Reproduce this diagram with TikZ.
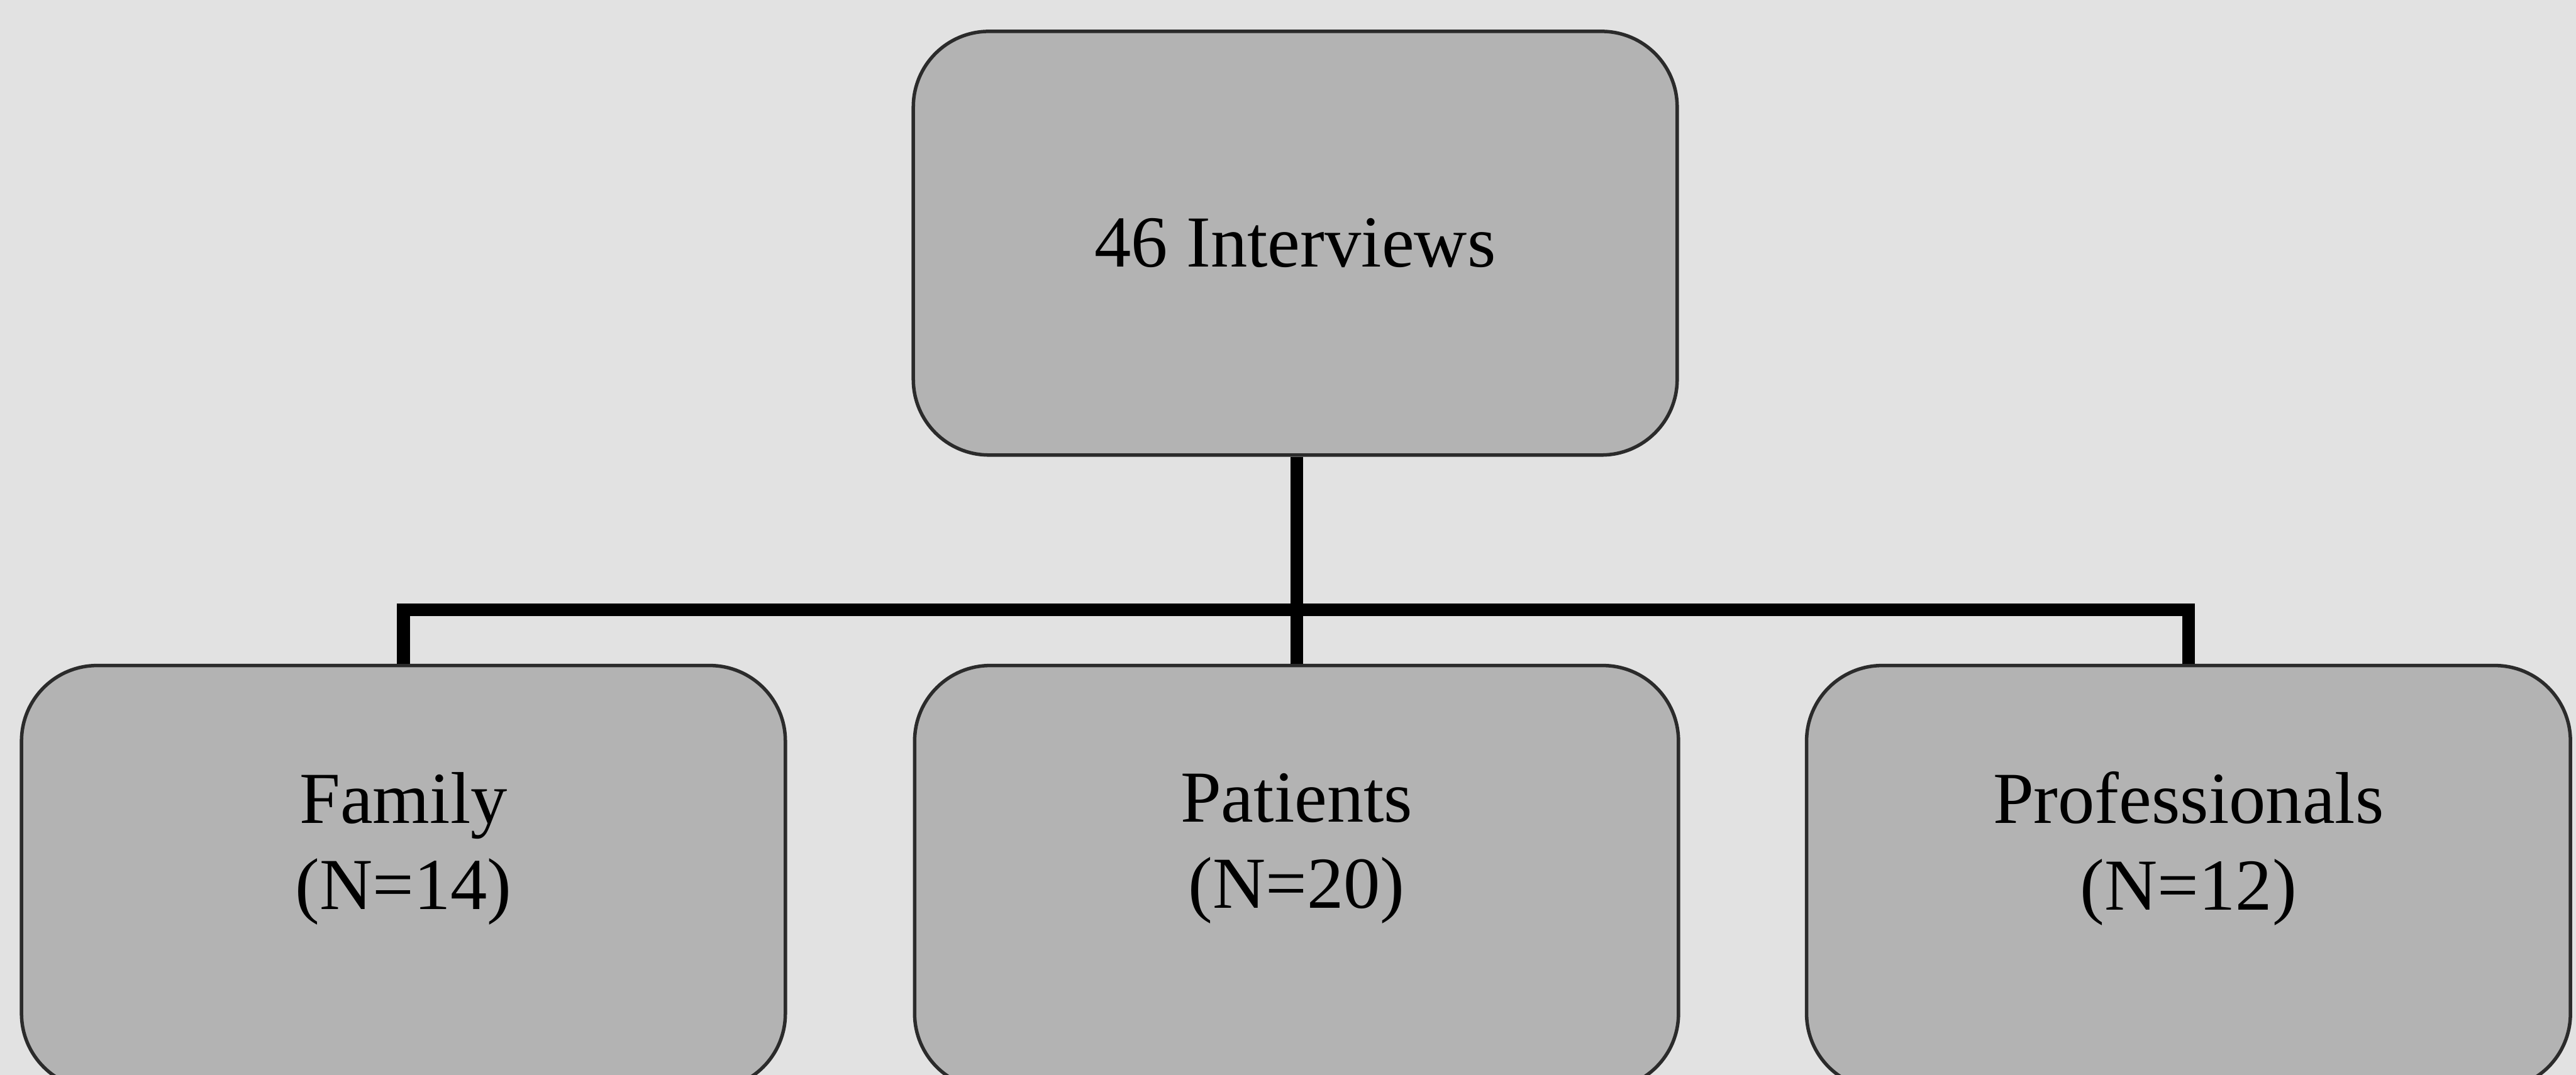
\documentclass[tikz,border=0pt]{standalone}
\usepackage{fontspec}
\setmainfont{Liberation Serif}
\usepackage{xcolor}
\usetikzlibrary{calc, positioning}

\definecolor{paper}{HTML}{E2E2E2}
\definecolor{boxgray}{HTML}{B3B3B3}
\definecolor{edgegray}{HTML}{2B2B2B}

\begin{document}
\begin{tikzpicture}[auto, font=\fontsize{12.7}{15}\selectfont]
				\tikzstyle{box} = [draw=edgegray, line width=0.6pt, fill=boxgray, rectangle, rounded corners=0.46cm, minimum width=4.65cm, minimum height=2.58cm, inner sep=0pt]
				\tikzstyle{invis} = [draw=none, align=center, inner sep=0pt]
				\tikzstyle{link} = [draw=black, line width=2.2pt]
				
				\useasboundingbox (0,0) rectangle (15.682,6.546);
				\fill[paper] (0,0) rectangle (15.682,6.546);
				\clip (0,0) rectangle (15.682,6.546);
				
				\node[box] 			at (7.885, 5.065) 	(all) 	{46 Interviews};
				\node[box] 			at (2.456, 1.203) 	(fam) 	{};
				\node[box] 			at (7.893, 1.203) 	(pat) 	{};
				\node[box] 			at (13.323, 1.203) 	(pro) 	{};
				\node[invis] 		at ([yshift=0.175cm]fam.center)	(famtxt) 	{Family\\(N=14)};
				\node[invis] 		at ([yshift=0.175cm]pat.center)	(pattxt) 	{Patients\\(N=20)};
				\node[invis] 		at ([yshift=0.175cm]pro.center)	(protxt) 	{Professionals\\(N=12)};
				\coordinate (bar) at (7.893, 2.831);
				
				\draw[link] (all.south -| pat.north) -- (pat.north);
				\draw[link] (fam.north) |- (bar) -| (pro.north);
			\end{tikzpicture}
\end{document}
